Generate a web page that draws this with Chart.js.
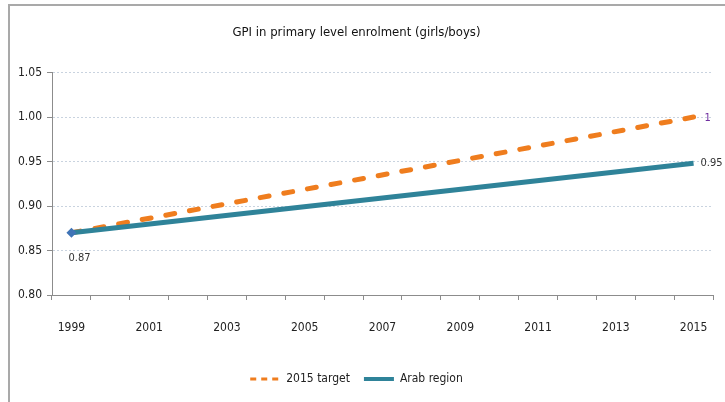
<!DOCTYPE html>
<html>
<head>
<meta charset="utf-8">
<script src="https://cdn.jsdelivr.net/npm/chart.js@4"></script>
<style>
  html, body { margin: 0; padding: 0; background: #fff; }
  body { width: 725px; height: 402px; overflow: hidden; position: relative; }
  .frame {
    position: absolute; left: 8px; top: 4px; width: 760px; height: 440px;
    border-left: 2px solid #a9a9a9; border-top: 2px solid #a9a9a9;
  }
  #wrap { position: absolute; left: 0; top: 0; width: 725px; height: 402px; }
</style>
</head>
<body>
<div class="frame"></div>
<div id="wrap"><canvas id="gpiChart"></canvas></div>
<script>
// === Data ===
const years = ["1999", "2000", "2001", "2002", "2003", "2004", "2005", "2006", "2007",
    "2008", "2009", "2010", "2011", "2012", "2013", "2014", "2015"];
// only the start and end values are known, the line spans the gap
const target2015 = [0.87, null, null, null, null, null, null, null, null,
    null, null, null, null, null, null, null, 1.00];
const arabRegion = [0.87, null, null, null, null, null, null, null, null,
    null, null, null, null, null, null, null, 0.948];
const yTicks = [0.80, 0.85, 0.90, 0.95, 1.00, 1.05];

const FONT = "'Liberation Sans Narrow', 'Arial Narrow', 'DejaVu Sans Condensed', sans-serif";
const ORANGE = "#EF7D1E";
const TEAL = "#2F8399";

// === value labels at the start / end of the lines ===
const valueLabels = {
    id: "valueLabels",
    afterDatasetsDraw(chart) {
        const ctx = chart.ctx;
        const fmt = (v) => String(Number(v.toFixed(2)));
        ctx.save();
        ctx.font = "11px " + FONT;
        ctx.textBaseline = "middle";
        ctx.textAlign = "left";

        const tMeta = chart.getDatasetMeta(0);
        const aMeta = chart.getDatasetMeta(1);
        const last = years.length - 1;

        // start value below the first point
        const p0 = aMeta.data[0];
        ctx.fillStyle = "#333";
        ctx.fillText(fmt(arabRegion[0]), p0.x - 3, p0.y + 25);

        // end of target line
        const pt = tMeta.data[last];
        ctx.fillStyle = "#7030A0";
        ctx.fillText(fmt(target2015[last]), pt.x + 11, pt.y + 1);

        // end of arab region line
        const pa = aMeta.data[last];
        ctx.fillStyle = "#333";
        ctx.fillText(fmt(arabRegion[last]), pa.x + 7, pa.y);
        ctx.restore();
    },
};

const ctx = document.getElementById("gpiChart").getContext("2d");
new Chart(ctx, {
    type: "line",
    data: {
        labels: years,
        datasets: [
            {
                label: "2015 target",
                data: target2015,
                borderColor: ORANGE,
                backgroundColor: ORANGE,
                borderWidth: 5,
                borderDash: [9, 15],
                borderCapStyle: "round",
                pointRadius: 0,
                spanGaps: true,
                tension: 0,
                order: 1,
            },
            {
                label: "Arab region",
                data: arabRegion,
                borderColor: TEAL,
                backgroundColor: TEAL,
                borderWidth: 5,
                pointStyle: "rectRot",
                pointRadius: [5, 0, 0, 0, 0, 0, 0, 0, 0, 0, 0, 0, 0, 0, 0, 0, 0],
                pointBackgroundColor: "#3F74B6",
                pointBorderColor: "#3F74B6",
                pointBorderWidth: 0,
                spanGaps: true,
                tension: 0,
                order: 0,
            },
        ],
    },
    options: {
        responsive: true,
        maintainAspectRatio: false,
        animation: false,
        layout: { padding: { left: 0, right: 12, top: 0, bottom: 7 } },
        plugins: {
            title: {
                display: true,
                text: "GPI in primary level enrolment (girls/boys)",
                color: "#111",
                font: { family: FONT, size: 13, weight: "normal" },
                padding: { top: 25, bottom: 32 },
            },
            legend: {
                display: true,
                position: "bottom",
                labels: {
                    color: "#222",
                    font: { family: FONT, size: 12 },
                    usePointStyle: true,
                    pointStyleWidth: 30,
                    boxHeight: 4,
                    padding: 14,
                    generateLabels: (chart) => chart.data.datasets.map((ds, i) => ({
                        text: ds.label,
                        datasetIndex: i,
                        fillStyle: ds.borderColor,
                        strokeStyle: ds.borderColor,
                        fontColor: "#222",
                        lineWidth: i === 0 ? 3 : 4,
                        lineDash: i === 0 ? [6, 5] : [],
                        lineCap: "butt",
                        pointStyle: "line",
                        hidden: false,
                    })),
                },
            },
            tooltip: { enabled: false },
        },
        scales: {
            y: {
                min: 0.8,
                max: 1.05,
                afterFit: (scale) => { scale.width = 52; },
                afterBuildTicks: (scale) => { scale.ticks = yTicks.map((v) => ({ value: v })); },
                ticks: {
                    color: "#222",
                    font: { family: FONT, size: 12 },
                    padding: 5,
                    callback: (v) => Number(v).toFixed(2),
                },
                grid: {
                    color: "#c9d3df",
                    tickColor: "#8c8c8c",
                    tickLength: 5,
                    lineWidth: 1,
                },
                border: { color: "#8c8c8c", width: 1, dash: [2, 2] },
            },
            x: {
                offset: true,
                afterFit: (scale) => {
                    scale.height = 64;
                    scale.paddingRight = 0;
                    scale.paddingLeft = 0;
                },
                ticks: {
                    color: "#222",
                    font: { family: FONT, size: 12 },
                    autoSkip: false,
                    maxRotation: 0,
                    padding: 21,
                    callback: function (v, i) { return i % 2 === 0 ? years[i] : ""; },
                },
                grid: {
                    offset: true,
                    drawOnChartArea: false,
                    color: "#8c8c8c",
                    tickLength: 5,
                },
                border: { color: "#8c8c8c", width: 1 },
            },
        },
    },
    plugins: [valueLabels],
});
</script>
</body>
</html>
